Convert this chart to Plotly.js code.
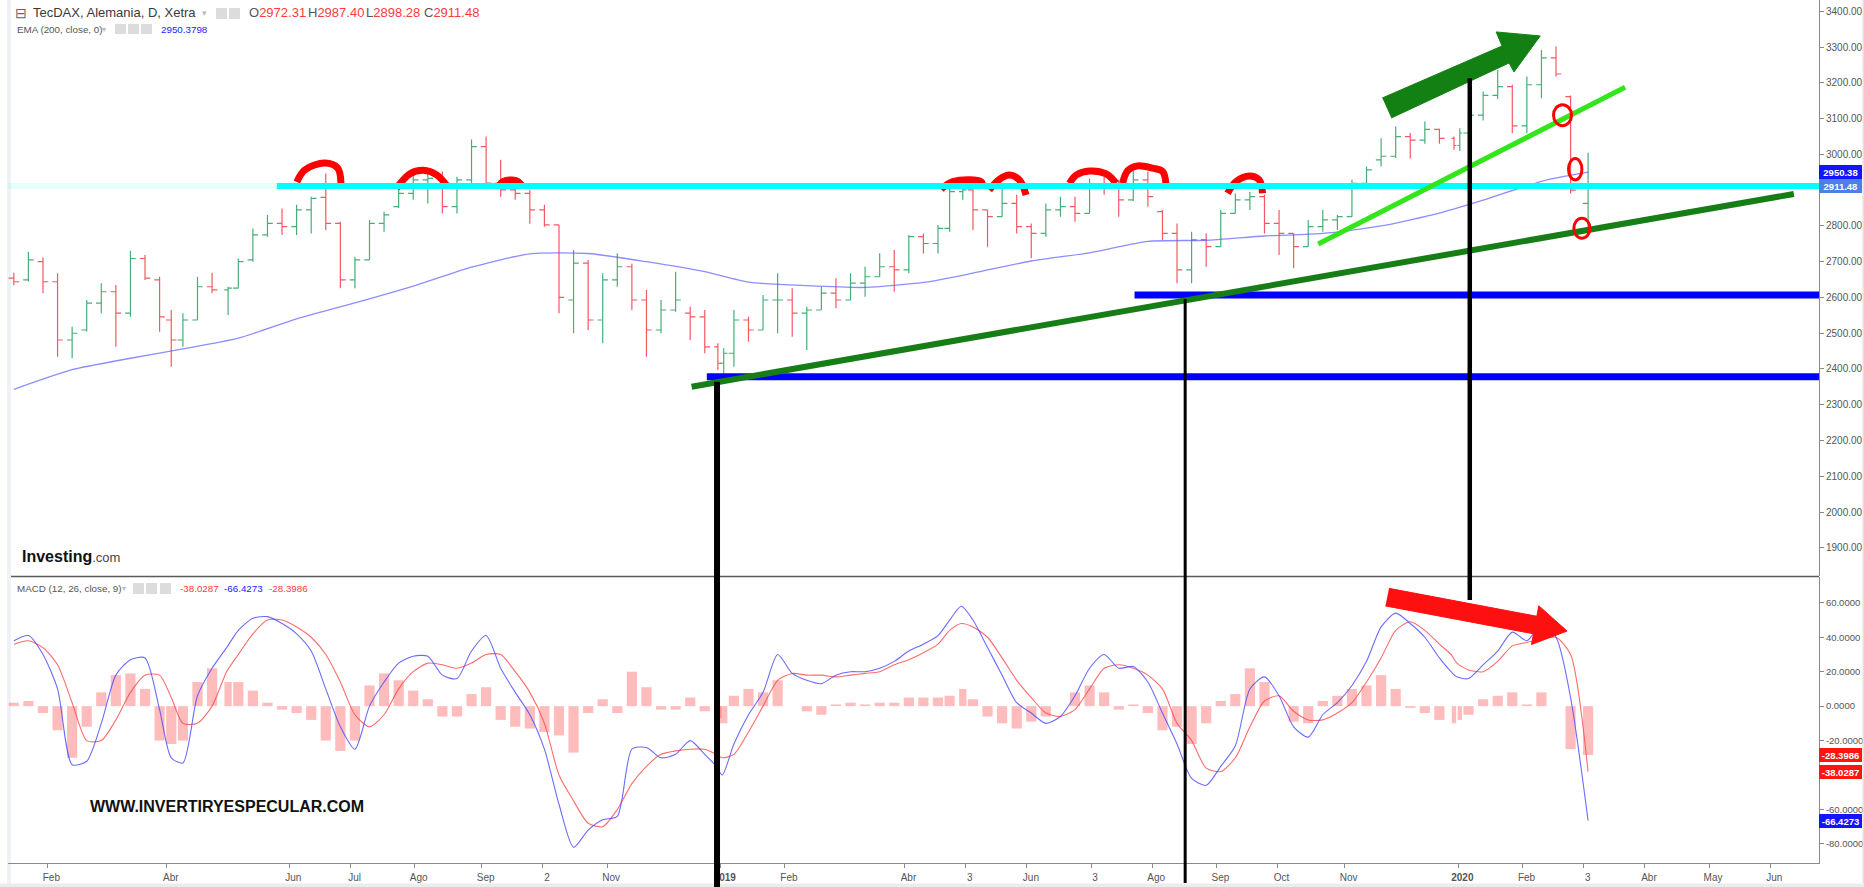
<!DOCTYPE html>
<html><head><meta charset="utf-8">
<script src="https://cdn.plot.ly/plotly-3.0.1.min.js"></script>
<style>html,body{margin:0;padding:0;background:#fff;}#chart{width:1864px;height:887px;}</style>
</head><body><div id="chart"></div>
<script>
// ---------- DATA (weekly OHLC) ----------
const weekDates = ['2018-01-17','2018-01-24','2018-01-31','2018-02-07','2018-02-14','2018-02-21','2018-02-28','2018-03-07','2018-03-14','2018-03-21',
'2018-03-28','2018-04-05','2018-04-11','2018-04-18','2018-04-25','2018-05-03','2018-05-09','2018-05-16','2018-05-23','2018-05-30',
'2018-06-06','2018-06-13','2018-06-20','2018-06-27','2018-07-04','2018-07-11','2018-07-18','2018-07-25','2018-08-01','2018-08-08',
'2018-08-15','2018-08-22','2018-08-29','2018-09-05','2018-09-12','2018-09-19','2018-09-26','2018-10-03','2018-10-10','2018-10-17',
'2018-10-24','2018-10-31','2018-11-07','2018-11-14','2018-11-21','2018-11-28','2018-12-05','2018-12-12','2018-12-19','2018-12-28',
'2019-01-03','2019-01-09','2019-01-16','2019-01-23','2019-01-30','2019-02-06','2019-02-13','2019-02-20','2019-02-27','2019-03-06',
'2019-03-13','2019-03-20','2019-03-27','2019-04-03','2019-04-10','2019-04-17','2019-04-25','2019-05-02','2019-05-08','2019-05-15',
'2019-05-22','2019-05-29','2019-06-05','2019-06-12','2019-06-19','2019-06-26','2019-07-03','2019-07-10','2019-07-17','2019-07-24',
'2019-07-31','2019-08-07','2019-08-14','2019-08-21','2019-08-28','2019-09-04','2019-09-11','2019-09-18','2019-09-25','2019-10-02',
'2019-10-09','2019-10-16','2019-10-23','2019-10-30','2019-11-06','2019-11-13','2019-11-20','2019-11-27','2019-12-04','2019-12-11',
'2019-12-18','2019-12-27','2020-01-02','2020-01-08','2020-01-15','2020-01-22','2020-01-29','2020-02-05','2020-02-12','2020-02-19',
'2020-02-26','2020-03-05'];
const openValues = [2654,2649,2700,2644,2481,2509,2584,2616,2556,2709, 2649,2537,2481,2537,2630,2621,2626,2705,2775,2807,
2798,2845,2880,2807,2649,2705,2807,2854,2891,2929, 2933,2854,2929,3022,2920,2901,2891,2845,2803,2593,
2696,2537,2649,2686,2593,2509,2565,2556,2546,2462, 2416,2444,2537,2509,2593,2593,2556,2565,2612,2593,
2640,2658,2686,2677,2770,2751,2793,2896,2901,2845, 2826,2863,2798,2779,2845,2854,2835,2915,2905,2873,
2929,2840,2779,2677,2761,2742,2835,2873,2882,2807, 2779,2742,2798,2817,2826,2919,2985,2995,3050,3040,
3070,3045,3025,3060,3110,3165,3190,3080,3195,3270, 3162,2863];
const highValues = [2669,2728,2712,2668,2518,2593,2640,2635,2731,2719, 2658,2565,2556,2658,2669,2630,2709,2793,2831,2849,
2859,2882,2947,2812,2714,2817,2840,2910,2961,2957, 2952,2938,3042,3050,2985,2915,2901,2859,2803,2733,
2705,2668,2724,2695,2621,2593,2672,2574,2565,2472, 2458,2565,2546,2607,2668,2626,2574,2630,2654,2668,
2686,2724,2733,2775,2779,2803,2910,2924,2905,2845, 2905,2887,2807,2863,2882,2882,2933,2938,2929,2957,
2952,2845,2807,2784,2779,2845,2891,2896,2887,2845, 2779,2817,2845,2831,2929,2966,3045,3078,3060,3092,
3072,3050,3073,3124,3176,3236,3195,3218,3292,3302, 3165,3005];
const lowValues = [2634,2645,2612,2434,2430,2505,2556,2462,2546,2649, 2504,2406,2462,2537,2612,2551,2626,2700,2770,2775,
2775,2779,2789,2626,2626,2705,2784,2850,2873,2863, 2835,2835,2919,2905,2882,2873,2806,2798,2556,2500,
2509,2472,2630,2565,2434,2500,2560,2481,2444,2397, 2388,2406,2476,2509,2500,2490,2453,2565,2570,2593,
2602,2658,2616,2668,2723,2723,2784,2873,2789,2742, 2826,2779,2710,2770,2826,2812,2835,2887,2826,2870,
2854,2761,2640,2640,2686,2742,2835,2845,2779,2719, 2682,2742,2784,2789,2826,2919,2966,2990,2989,3030,
3030,3013,3010,2966,3095,3155,3059,3059,3157,3218, 2891,2789];
const closeValues = [2644,2705,2644,2481,2500,2584,2616,2556,2709,2654, 2546,2481,2537,2630,2621,2626,2700,2775,2807,2798,
2845,2877,2807,2649,2705,2807,2831,2891,2929,2933, 2854,2929,3022,2920,2901,2891,2845,2803,2600,2696,
2537,2649,2686,2593,2509,2565,2593,2546,2462,2416, 2444,2537,2509,2593,2593,2556,2565,2612,2593,2640,
2658,2686,2677,2770,2751,2793,2896,2901,2845,2826, 2863,2798,2779,2845,2854,2835,2915,2905,2873,2929,
2882,2779,2677,2761,2742,2835,2873,2882,2807,2779, 2742,2798,2817,2826,2919,2957,2995,3050,3040,3070,
3045,3025,3060,3110,3165,3190,3080,3195,3270,3225, 2900,2911.48];

const emaDates = ['2018-01-17','2018-02-14','2018-03-14','2018-04-11','2018-05-09','2018-06-06','2018-07-04','2018-08-01','2018-08-29','2018-09-26',
'2018-10-24','2018-11-21','2018-12-19','2019-01-16','2019-02-13','2019-03-13','2019-04-10','2019-05-08','2019-06-05','2019-07-03',
'2019-07-31','2019-08-28','2019-09-25','2019-10-23','2019-11-20','2019-12-18','2020-01-15','2020-02-12','2020-03-05'];
const emaValues = [2343,2398,2430,2456,2486,2540,2585,2632,2685,2722, 2723,2700,2672,2643,2633,2628,2642,2668,2702,2725,
2757,2760,2772,2779,2800,2836,2872,2925,2950.38];

const macdValues = [38,41,30,10,-34,-32,-10,18,27,28, -2,-30,-33,6,22,34,44,51,52,48,
42,32,10,-12,-25,0,14,25,29,29, 18,16,32,41,22,8,-5,-25,-57,-82,
-72,-66,-64,-25,-24,-30,-28,-20,-28,-35, -40,-22,-5,8,30,19,15,13,18,20,
20,22,26,32,36,41,50,58,50,34, 18,2,-4,-10,-6,6,22,30,22,23,
14,-4,-22,-42,-46,-35,-23,10,17,6, -12,-18,-5,2,12,26,46,54,48,40,
28,20,17,16,24,32,43,38,47,40, 5,-66.4273];
const signalValues = [36,38,34,24,2,-20,-20,-8,8,18, 18,5,-10,-10,0,20,30,42,50,50,
46,40,30,14,-5,-12,-5,10,20,25, 24,22,25,30,30,20,8,-10,-40,-55,
-68,-70,-60,-45,-35,-28,-26,-25,-25,-28, -30,-28,-15,0,15,19,18,18,17,18,
19,20,24,27,31,36,44,48,46,40, 28,15,5,-4,-6,-2,10,22,24,22,
18,10,-10,-20,-36,-38,-30,-12,3,6, -3,-8,-8,-4,2,14,28,44,49,44,
36,30,25,21,20,26,35,37,39,40, 30,-38.0287];
const histValues = [2,3,-4,-14,-30,-12,8,18,19,10, -20,-22,-20,14,22,14,14,9,2,-2,
-4,-8,-20,-26,-20,12,19,15,9,4, -6,-6,7,11,-8,-12,-13,-15,-17,-27,
-4,4,-4,20,11,-2,-2,5,-3,-7, -10,6,10,8,15,0,-3,-5,1,2,
1,2,2,5,5,5,6,10,4,-6, -10,-13,-9,-6,0,8,12,8,-2,1,
-4,-14,-12,-22,-10,3,7,22,14,0, -9,-10,3,6,10,12,18,10,-1,-4,
-8,-10,-8,-5,4,6,8,1,8,0, -25,-28.3986];

const xTickDates = ['2018-02-01 12:00','2018-04-03 12:00','2018-06-01 12:00','2018-07-02 12:00','2018-08-01 12:00','2018-09-03 12:00','2018-10-02 12:00','2018-11-01 12:00','2019-01-02 12:00','2019-02-01 12:00',
'2019-04-01 12:00','2019-05-03 12:00','2019-06-03 12:00','2019-07-03 12:00','2019-08-01 12:00','2019-09-02 12:00','2019-10-01 12:00','2019-11-01 12:00','2020-01-02 12:00','2020-02-03 12:00',
'2020-03-03 12:00','2020-04-01 12:00','2020-05-01 12:00','2020-06-01 12:00'];
const xTickLabels = ['Feb','Abr','Jun','Jul','Ago','Sep','2','Nov','<b>2019</b>','Feb','Abr','3','Jun','3','Ago','Sep','Oct','Nov','<b>2020</b>','Feb','3','Abr','May','Jun'];
const priceTicks = [1900,2000,2100,2200,2300,2400,2500,2600,2700,2800,3000,3100,3200,3300,3400];
const priceTickLabels = ['1900.00','2000.00','2100.00','2200.00','2300.00','2400.00','2500.00','2600.00','2700.00','2800.00','3000.00','3100.00','3200.00','3300.00','3400.00'];
const macdTicks = [-80,-60,-20,0,20,40,60];
const macdTickLabels = ['-80.0000','-60.0000','-20.0000','0.0000','20.0000','40.0000','60.0000'];
const holidays = ['2018-03-30','2018-04-02','2018-05-01','2018-12-24','2018-12-25','2018-12-26','2018-12-31','2019-01-01','2019-04-19','2019-04-22','2019-05-01','2019-12-24','2019-12-25','2019-12-26','2019-12-31','2020-01-01'];

// ---------- user drawings (time / price anchors) ----------
const resistanceLevel = 2911.48, resistanceStart = '2018-05-28 05:00';
const supportLines = [{start:'2019-07-24 10:00', price:2607},{start:'2018-12-19 17:00', price:2378.5}];
const longTrend = {x:['2018-12-12 12:00','2020-06-11 14:00'], y:[2350.5,2889.5]};
const shortTrend = {x:['2019-10-21 10:00','2020-03-23 17:00'], y:[2749.7,3188]};
const redArcs = [
 {x:['2018-06-06 02:00','2018-06-08 19:00','2018-06-19 17:00','2018-06-26 02:00','2018-06-27 05:00'], y:[2923,2956.6,2976,2962,2920]},
 {x:['2018-07-24 06:00','2018-07-30 19:00','2018-08-06 10:00','2018-08-13 01:00','2018-08-16 22:00'], y:[2905.5,2945.5,2955.5,2943,2908.4]},
 {x:['2019-04-18 02:00','2019-04-26 02:00','2019-05-10 19:00','2019-05-13 08:00'], y:[2902.7,2924,2924,2905.5]},
 {x:['2019-05-15 14:00','2019-05-21 02:00','2019-05-24 12:00','2019-05-29 22:00','2019-06-03 05:00'], y:[2900.7,2930.6,2942.7,2928.7,2886.7]},
 {x:['2019-06-24 02:00','2019-06-26 12:00','2019-07-02 22:00','2019-07-10 17:00','2019-07-16 02:00'], y:[2919.4,2942.7,2953.8,2945.5,2919.4]},
 {x:['2019-07-18 08:00','2019-07-22 02:00','2019-07-25 12:00','2019-08-01 14:00','2019-08-07 02:00','2019-08-08 05:00'], y:[2919.4,2954.8,2968,2961.5,2952,2914.7]},
 {x:['2019-09-06 08:00','2019-09-11 05:00','2019-09-17 19:00','2019-09-23 05:00','2019-09-24 08:00'], y:[2891.5,2924,2939.9,2928.7,2891.5]}
];
const redDome = {x:['2018-09-07 23:00','2018-09-11 17:00','2018-09-17 02:00','2018-09-20 12:00','2018-09-24 22:00'], y:[2908.4,2928.7,2937,2931.5,2909]};
const greenArrow = {x:['2019-11-20 10:00','2020-01-23 12:00','2020-01-21 11:00','2020-02-11 14:00','2020-01-29 14:00','2020-01-27 22:00','2019-11-25 12:00'], y:[3158,3303.5,3342.7,3331.5,3230.8,3256,3102]};
const redArrow = {x:['2019-11-22 17:00','2020-02-10 10:00','2020-02-11 02:00','2020-02-24 19:00','2020-02-06 14:00','2020-02-07 07:00','2019-11-21 12:00'], y:[68.4,52.2,58.3,43.6,35.8,42,58.2]};
const circles = [{x:'2020-02-21 05:30', y:3110, rx:9, ry:10.5},{x:'2020-02-27 14:00', y:2958.6, rx:6.7, ry:10.7},{x:'2020-03-02 21:00', y:2793.6, rx:8, ry:10}];

// ---------- layout geometry ----------
const W=1864, H=887, ML=8, MR=45, MT=0, MB=24;
const PW=W-ML-MR, PH=H-MT-MB;
const mainDomain=[1-576/PH,1], macdDomain=[0,1-577/PH];
const priceRange=[1821,3432], macdRange=[-91.1,75];
const PX=x=>(x-ML)/PW, PY=y=>1-(y-MT)/PH;
const pY=p=>mainDomain[0]+(p-priceRange[0])/(priceRange[1]-priceRange[0])*(mainDomain[1]-mainDomain[0]);
const mY=v=>macdDomain[0]+(v-macdRange[0])/(macdRange[1]-macdRange[0])*(macdDomain[1]-macdDomain[0]);
const FONT='Liberation Sans, Arial, sans-serif';
const RED='#ff3b3b', BLUE='#2323ff';

const traces = [];
traces.push({type:'ohlc', x:weekDates, open:openValues, high:highValues, low:lowValues, close:closeValues,
  xaxis:'x', yaxis:'y', tickwidth:0.3, hoverinfo:'skip', showlegend:false,
  increasing:{line:{color:'rgba(38,160,95,0.85)', width:1.2}}, decreasing:{line:{color:'rgba(242,70,82,0.9)', width:1.2}}});
traces.push({type:'scatter', mode:'lines', x:emaDates, y:emaValues, xaxis:'x', yaxis:'y', hoverinfo:'skip', showlegend:false,
  line:{color:'rgba(80,80,255,0.65)', width:1.3, shape:'spline', smoothing:0.6}});
redArcs.forEach(a=>traces.push({type:'scatter', mode:'lines', x:a.x, y:a.y, xaxis:'x', yaxis:'y', hoverinfo:'skip', showlegend:false,
  line:{color:'#ff0000', width:7, shape:'spline', smoothing:1}}));
traces.push({type:'scatter', mode:'lines', x:redDome.x, y:redDome.y, fill:'toself', fillcolor:'#ff0000', xaxis:'x', yaxis:'y', hoverinfo:'skip', showlegend:false,
  line:{color:'#ff0000', width:1, shape:'spline'}});
traces.push({type:'scatter', mode:'lines', x:greenArrow.x, y:greenArrow.y, fill:'toself', fillcolor:'#138013', xaxis:'x', yaxis:'y', hoverinfo:'skip', showlegend:false,
  line:{color:'#138013', width:1}});
// MACD pane
traces.push({type:'bar', x:weekDates, y:histValues, xaxis:'x', yaxis:'y2', width:3.5*86400000, hoverinfo:'skip', showlegend:false,
  marker:{color:'rgba(255,80,80,0.38)', line:{width:0}}});
traces.push({type:'scatter', mode:'lines', x:weekDates, y:signalValues, xaxis:'x', yaxis:'y2', hoverinfo:'skip', showlegend:false,
  line:{color:'rgba(255,70,70,0.8)', width:1.1, shape:'spline', smoothing:0.7}});
traces.push({type:'scatter', mode:'lines', x:weekDates, y:macdValues, xaxis:'x', yaxis:'y2', hoverinfo:'skip', showlegend:false,
  line:{color:'rgba(70,70,255,0.8)', width:1.1, shape:'spline', smoothing:0.7}});
traces.push({type:'scatter', mode:'lines', x:redArrow.x, y:redArrow.y, fill:'toself', fillcolor:'#ff1010', xaxis:'x', yaxis:'y2', hoverinfo:'skip', showlegend:false,
  line:{color:'#ff1010', width:1}});

const farRight='2020-07-20';
const shapes = [
  {type:'rect', xref:'paper', yref:'paper', x0:PX(7), x1:PX(11), y0:PY(887), y1:1, fillcolor:'#eef1f6', line:{width:0}, layer:'below'},
  {type:'rect', xref:'paper', yref:'paper', x0:PX(0), x1:PX(1864), y0:PY(887), y1:PY(883.5), fillcolor:'#ececec', line:{width:0}},
  {type:'rect', xref:'paper', yref:'paper', x0:PX(1862.5), x1:PX(1864), y0:PY(883.5), y1:1, fillcolor:'#e2e2e2', line:{width:0}},
  {type:'line', xref:'paper', yref:'paper', x0:PX(11), x1:1, y0:PY(576.5), y1:PY(576.5), line:{color:'#5a5a5a', width:1.5}},
  {type:'line', xref:'x', yref:'y', x0:'2018-01-15', x1:resistanceStart, y0:resistanceLevel, y1:resistanceLevel, line:{color:'rgba(0,255,255,0.1)', width:6}},
  {type:'line', xref:'x', yref:'y', x0:resistanceStart, x1:farRight, y0:resistanceLevel, y1:resistanceLevel, line:{color:'#00ffff', width:6}},
];
supportLines.forEach(s=>shapes.push({type:'line', xref:'x', yref:'y', x0:s.start, x1:farRight, y0:s.price, y1:s.price, line:{color:'#0000ff', width:7}}));
shapes.push({type:'line', xref:'x', yref:'y', x0:longTrend.x[0], x1:longTrend.x[1], y0:longTrend.y[0], y1:longTrend.y[1], line:{color:'#177e17', width:6}});
shapes.push({type:'line', xref:'x', yref:'y', x0:shortTrend.x[0], x1:shortTrend.x[1], y0:shortTrend.y[0], y1:shortTrend.y[1], line:{color:'#33e61c', width:5}});
shapes.push({type:'line', xref:'x', yref:'paper', x0:'2018-12-28 05:00', x1:'2018-12-28 05:00', y0:PY(887), y1:pY(2364.5), line:{color:'#000', width:6}});
shapes.push({type:'line', xref:'x', yref:'paper', x0:'2019-08-16 19:00', x1:'2019-08-16 19:00', y0:PY(883), y1:pY(2595.8), line:{color:'#000', width:3}});
shapes.push({type:'line', xref:'x', yref:'paper', x0:'2020-01-08 10:00', x1:'2020-01-08 10:00', y0:mY(61.6), y1:pY(3213), line:{color:'#000', width:4.5}});
circles.forEach(c=>shapes.push({type:'circle', xref:'x', yref:'y', xsizemode:'pixel', ysizemode:'pixel', xanchor:c.x, yanchor:c.y,
  x0:-c.rx, x1:c.rx, y0:-c.ry, y1:c.ry, line:{color:'#ff0000', width:3}}));
[[216,227,8,19],[229,240,8,19],[115,126,24,34],[128,139,24,34],[141,152,24,34],[133,144,583,594],[146,157,583,594],[160,171,583,594]].forEach(b=>
  shapes.push({type:'rect', xref:'paper', yref:'paper', x0:PX(b[0]), x1:PX(b[1]), y0:PY(b[3]), y1:PY(b[2]), fillcolor:'#dcdcdc', line:{width:0}}));

const ann = (x,y,text,size,color,extra)=>Object.assign({xref:'paper', yref:'paper', x:PX(x), y:PY(y), text:text, showarrow:false,
  xanchor:'left', yanchor:'middle', font:{family:FONT, size:size, color:color}}, extra||{});
const annotations = [
  ann(13,13,'⊟',14,'#666'),
  ann(31,13,'TecDAX, Alemania, D, Xetra',13,'#3a3a3a'),
  ann(200,13,'▾',9,'#bbb'),
  ann(247,13,'O<span style="color:'+RED+'">2972.31</span>',13,'#555'),
  ann(305.5,13,'H<span style="color:'+RED+'">2987.40</span>',13,'#555'),
  ann(364,13,'L<span style="color:'+RED+'">2898.28</span>',13,'#555'),
  ann(422,13,'C<span style="color:'+RED+'">2911.48</span>',13,'#555'),
  ann(15,29.5,'EMA (200, close, 0)',9.8,'#555'),
  ann(100,29.5,'▾',8,'#bbb'),
  ann(159,29.5,'2950.3798',9.8,BLUE),
  ann(15,588.5,'MACD (12, 26, close, 9)',9.8,'#555'),
  ann(120,588.5,'▾',8,'#bbb'),
  ann(178,588.5,'-38.0287',9.8,RED),
  ann(222,588.5,'-66.4273',9.8,BLUE),
  ann(267,588.5,'-28.3986',9.8,RED),
  ann(20,556,'<b>Investing</b><span style="font-size:13px;color:#444">.com</span>',16,'#111'),
  ann(88,806,'<b>WWW.INVERTIRYESPECULAR.COM</b>',16,'#111'),
];
const box = (yref,y,text,bg)=>({xref:'paper', yref:yref, x:1, y:y, xanchor:'left', yanchor:'middle', showarrow:false, text:text,
  bgcolor:bg, bordercolor:bg, borderpad:1, width:39, height:10, font:{family:FONT, size:9.5, color:'#fff'}});
annotations.push(box('y',2950.38,'<b>2950.38</b>','#1414ff'));
annotations.push(box('y',2911.48,'<b>2911.48</b>','#4f7fe6'));
annotations.push(box('y2',-28.3986,'<b>-28.3986</b>','#ff1414'));
annotations.push(box('y2',-38.0287,'<b>-38.0287</b>','#ff1414'));
annotations.push(box('y2',-66.4273,'<b>-66.4273</b>','#1414ff'));

const axisCommon = {showgrid:false, zeroline:false, showline:true, linecolor:'#8a8a8a', linewidth:1, ticks:'outside', ticklen:4,
  tickcolor:'#8a8a8a', tickfont:{family:FONT, size:10, color:'#555'}, fixedrange:true};
const layout = {
  width:W, height:H, autosize:false, margin:{l:ML, r:MR, t:MT, b:MB, pad:0},
  paper_bgcolor:'#fff', plot_bgcolor:'#fff', showlegend:false, hovermode:false, dragmode:false,
  xaxis:Object.assign({}, axisCommon, {type:'date', anchor:'y2', range:['2018-01-15','2020-06-24 05:00'],
    rangebreaks:[{bounds:['sat','mon']},{values:holidays}], tickmode:'array', tickvals:xTickDates, ticktext:xTickLabels,
    rangeslider:{visible:false}, ticklabelstandoff:1, ticklabelshift:4}),
  yaxis:Object.assign({}, axisCommon, {domain:mainDomain, range:priceRange, side:'right', anchor:'x', tickmode:'array', tickvals:priceTicks, ticktext:priceTickLabels}),
  yaxis2:Object.assign({}, axisCommon, {domain:macdDomain, range:macdRange, side:'right', anchor:'x', tickmode:'array', tickvals:macdTicks, ticktext:macdTickLabels,
    tickfont:{family:FONT, size:9.5, color:'#555'}}),
  shapes:shapes, annotations:annotations
};
Plotly.newPlot('chart', traces, layout, {displayModeBar:false, staticPlot:true});
</script></body></html>
